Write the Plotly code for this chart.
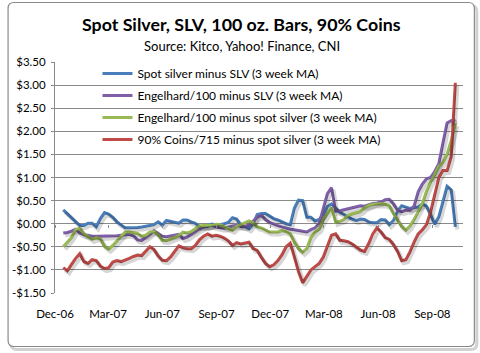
import plotly.graph_objects as go
import pandas as pd

# ---------------- data ----------------
dates = pd.date_range("2006-12-15", periods=96, freq="7D")

spot_minus_slv = [0.30, 0.22, 0.14, 0.05, -0.04, -0.04, 0.01, 0.01, -0.07, 0.11,
                  0.24, 0.21, 0.14, 0.04, -0.03, -0.09, -0.09, -0.09, -0.08, -0.07,
                  -0.05, -0.04, -0.02, 0.04, -0.03, 0.07, 0.05, 0.02, 0.01, 0.08,
                  0.08, 0.04, 0.01, -0.06, -0.07, -0.06, -0.01, -0.02, -0.02, 0.00,
                  0.03, 0.13, 0.10, -0.03, -0.06, -0.11, 0.00, 0.20, 0.22, 0.22,
                  0.17, 0.11, 0.08, 0.04, 0.00, -0.02, 0.34, 0.51, 0.50, 0.14,
                  0.14, 0.06, 0.09, 0.20, 0.37, 0.43, 0.33, 0.25, 0.20, 0.15,
                  0.10, 0.07, 0.10, 0.09, 0.04, 0.02, 0.02, 0.09, 0.08, -0.02,
                  0.07, 0.27, 0.39, 0.36, 0.33, 0.35, 0.36, 0.43, 0.38, 0.19,
                  -0.01, 0.15, 0.48, 0.81, 0.73, -0.07]

engelhard_minus_slv = [-0.20, -0.19, -0.16, -0.12, -0.20, -0.24, -0.25, -0.27, -0.27, -0.27,
                       -0.27, -0.27, -0.27, -0.26, -0.25, -0.24, -0.23, -0.26, -0.35, -0.36,
                       -0.30, -0.23, -0.15, -0.21, -0.27, -0.28, -0.26, -0.24, -0.23, -0.32,
                       -0.29, -0.23, -0.16, -0.11, -0.07, -0.04, -0.04, -0.07, -0.09, -0.10,
                       -0.08, -0.05, -0.03, -0.06, -0.06, -0.03, 0.05, 0.14, 0.18, 0.09,
                       0.03, -0.01, -0.04, -0.07, -0.10, -0.12, -0.13, -0.15, -0.16, -0.18,
                       -0.13, -0.09, 0.00, 0.30, 0.65, 0.78, 0.27, 0.28, 0.30, 0.33,
                       0.35, 0.37, 0.39, 0.38, 0.41, 0.44, 0.45, 0.47, 0.52, 0.53,
                       0.43, 0.29, 0.26, 0.29, 0.29, 0.38, 0.69, 0.86, 0.97, 1.00,
                       1.13, 1.30, 1.75, 2.18, 2.23, 2.25]

engelhard_minus_spot = [-0.50, -0.40, -0.30, -0.13, -0.10, -0.22, -0.28, -0.34, -0.30, -0.33,
                        -0.49, -0.55, -0.47, -0.37, -0.27, -0.18, -0.18, -0.19, -0.21, -0.27,
                        -0.25, -0.18, -0.17, -0.24, -0.36, -0.37, -0.33, -0.30, -0.26, -0.18,
                        -0.20, -0.17, -0.11, -0.05, -0.04, -0.04, -0.04, -0.01, -0.02, -0.07,
                        -0.10, -0.14, -0.06, -0.02, 0.03, 0.06, 0.02, -0.07, -0.09, -0.13,
                        -0.18, -0.18, -0.18, -0.15, -0.17, -0.22, -0.40, -0.54, -0.62, -0.54,
                        -0.30, -0.18, -0.12, 0.09, 0.22, 0.35, 0.03, 0.05, 0.09, 0.18,
                        0.21, 0.23, 0.26, 0.34, 0.39, 0.42, 0.43, 0.43, 0.42, 0.39,
                        0.22, 0.08, -0.06, -0.14, -0.05, 0.09, 0.27, 0.43, 0.70, 0.90,
                        1.06, 1.24, 1.33, 1.50, 1.80, 2.17]

coins_minus_spot = [-0.95, -1.02, -0.88, -0.75, -0.65, -0.82, -0.86, -0.78, -0.80, -0.92,
                    -0.97, -0.95, -0.83, -0.80, -0.82, -0.79, -0.75, -0.71, -0.68, -0.69,
                    -0.60, -0.50, -0.56, -0.70, -0.79, -0.80, -0.72, -0.59, -0.48, -0.52,
                    -0.54, -0.54, -0.47, -0.35, -0.27, -0.22, -0.27, -0.25, -0.27, -0.31,
                    -0.37, -0.47, -0.41, -0.44, -0.42, -0.40, -0.54, -0.58, -0.73, -0.86,
                    -0.93, -0.89, -0.80, -0.67, -0.50, -0.42, -0.72, -1.04, -1.28, -1.15,
                    -1.00, -0.93, -0.86, -0.72, -0.49, -0.25, -0.22, -0.36, -0.37, -0.39,
                    -0.44, -0.50, -0.57, -0.60, -0.43, -0.22, -0.09, -0.18, -0.30, -0.34,
                    -0.45, -0.60, -0.80, -0.78, -0.61, -0.40, -0.22, -0.13, -0.02, 0.25,
                    0.60, 1.00, 1.15, 1.15, 1.45, 3.05]

series_names = ["Spot silver minus SLV (3 week MA)",
                "Engelhard/100 minus SLV (3 week MA)",
                "Engelhard/100 minus spot silver (3 week MA)",
                "90% Coins/715 minus spot silver (3 week MA)"]
series_values = [spot_minus_slv, engelhard_minus_slv, engelhard_minus_spot, coins_minus_spot]
series_colors = ["#4A7EBB", "#7F60A8", "#98B954", "#BE4B48"]

y_tickvals = [3.5, 3.0, 2.5, 2.0, 1.5, 1.0, 0.5, 0.0, -0.5, -1.0, -1.5]
y_ticktext = ["$3.50", "$3.00", "$2.50", "$2.00", "$1.50", "$1.00", "$0.50",
              "$0.00", "-$0.50", "-$1.00", "-$1.50"]
x_tickvals = ["2006-12-01", "2007-03-01", "2007-06-01", "2007-09-01",
              "2007-12-01", "2008-03-01", "2008-06-01", "2008-09-01"]
x_ticktext = ["Dec-06", "Mar-07", "Jun-07", "Sep-07", "Dec-07", "Mar-08", "Jun-08", "Sep-08"]

# ---------------- layout geometry ----------------
W, H = 480, 353
L, R, T, B = 50, 463, 62, 293
XR = [pd.Timestamp("2006-12-01"), pd.Timestamp("2008-10-23")]
YR = [-1.5, 3.5]
FONT = "Lato, 'Open Sans', sans-serif"
GRID = "#8a8a8a"


def px2x(px):
    return (px - L) / (R - L)


def py2y(py):
    return (B - py) / (B - T)


def rrect(x0, y0, x1, y1, r):
    pts = [
        ("M", x0 + r, y0), ("L", x1 - r, y0), ("Q", x1, y0, x1, y0 + r),
        ("L", x1, y1 - r), ("Q", x1, y1, x1 - r, y1), ("L", x0 + r, y1),
        ("Q", x0, y1, x0, y1 - r), ("L", x0, y0 + r), ("Q", x0, y0, x0 + r, y0),
    ]
    out = []
    for p in pts:
        if p[0] == "Q":
            out.append("Q%.5f,%.5f %.5f,%.5f" % (px2x(p[1]), py2y(p[2]), px2x(p[3]), py2y(p[4])))
        else:
            out.append("%s%.5f,%.5f" % (p[0], px2x(p[1]), py2y(p[2])))
    return " ".join(out) + " Z"


fig = go.Figure()

# shadow axes shifted by ~2px
days_per_px = (XR[1] - XR[0]) / (R - L)
val_per_px = (YR[1] - YR[0]) / (B - T)
sx, sy = 2.0, 2.5
XR2 = [XR[0] - days_per_px * sx, XR[1] - days_per_px * sx]
YR2 = [YR[0] + val_per_px * sy, YR[1] + val_per_px * sy]

for vals in series_values:
    fig.add_trace(go.Scatter(x=dates, y=vals, mode="lines", xaxis="x2", yaxis="y2",
                             line=dict(color="rgba(0,0,0,0.16)", width=4),
                             showlegend=False, hoverinfo="skip"))

for name, vals, col in zip(series_names, series_values, series_colors):
    fig.add_trace(go.Scatter(x=dates, y=vals, mode="lines", name=name,
                             legendgroup=name,
                             line=dict(color=col, width=3)))

fig.update_layout(
    width=W, height=H,
    margin=dict(l=L, r=W - R, t=T, b=H - B, pad=0),
    paper_bgcolor="white", plot_bgcolor="white",
    font=dict(family=FONT, size=11, color="#000000"),
    showlegend=True,
    legend=dict(x=px2x(93), y=py2y(59), xanchor="left", yanchor="top",
                bgcolor="rgba(0,0,0,0)", borderwidth=0,
                font=dict(family=FONT, size=12, color="#000"),
                tracegroupgap=3, itemwidth=30),
    xaxis=dict(range=XR, type="date", tickvals=x_tickvals, ticktext=x_ticktext,
               showgrid=False, zeroline=False, showline=False, ticks="",
               ticklabelstandoff=12, tickfont=dict(family=FONT, size=11.5)),
    yaxis=dict(range=YR, tickvals=y_tickvals, ticktext=y_ticktext,
               showgrid=True, gridcolor=GRID, gridwidth=1, zeroline=False,
               showline=True, linecolor=GRID, linewidth=1,
               ticks="outside", ticklen=3, tickcolor=GRID,
               ticklabelstandoff=3, tickfont=dict(family=FONT, size=11.5)),
    xaxis2=dict(range=XR2, type="date", overlaying="x", visible=False),
    yaxis2=dict(range=YR2, overlaying="y", visible=False, anchor="x2"),
    xaxis3=dict(range=XR, type="date", overlaying="x", anchor="free",
                position=py2y(B - (B - T) * 1.5 / 5.0), tickvals=x_tickvals,
                showticklabels=False, ticks="outside", ticklen=3, tickcolor=GRID,
                showgrid=False, zeroline=False, showline=False),
)

# dummy trace to make xaxis3 render
fig.add_trace(go.Scatter(x=[dates[0]], y=[None], xaxis="x3", yaxis="y",
                         showlegend=False, hoverinfo="skip"))

# outer rounded frame with shadow
fig.add_shape(type="path", xref="paper", yref="paper", layer="below",
              path=rrect(5.5, 5.5, 477, 349.5, 6),
              line=dict(color="rgba(0,0,0,0.18)", width=3))
fig.add_shape(type="path", xref="paper", yref="paper", layer="below",
              path=rrect(2.5, 2.5, 474.5, 346.5, 6),
              fillcolor="white", line=dict(color="#8a8a8a", width=1.2))

fig.add_annotation(text="<b>Spot Silver, SLV, 100 oz. Bars, 90% Coins</b>",
                   xref="paper", yref="paper", x=px2x(239), y=py2y(24),
                   xanchor="center", yanchor="middle", showarrow=False,
                   font=dict(family=FONT, size=17.8, color="#000"))
fig.add_annotation(text="Source: Kitco, Yahoo! Finance, CNI",
                   xref="paper", yref="paper", x=px2x(239), y=py2y(46),
                   xanchor="center", yanchor="middle", showarrow=False,
                   font=dict(family=FONT, size=13, color="#000"))

fig.write_html("out.html")
